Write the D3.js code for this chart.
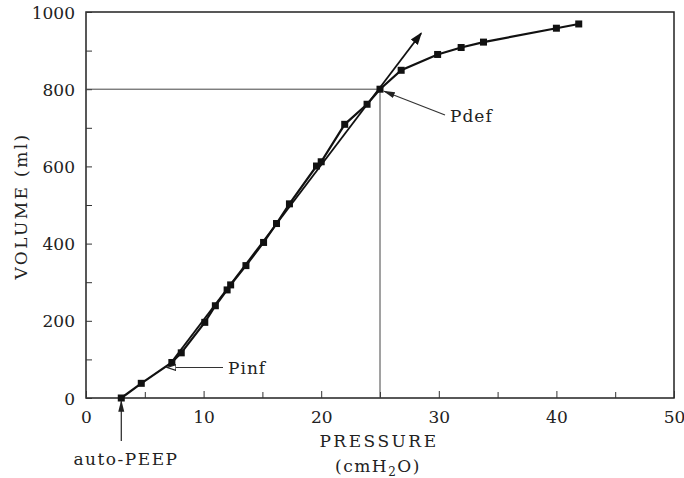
<!DOCTYPE html>
<html>
<head>
<meta charset="utf-8">
<script src="https://cdn.jsdelivr.net/npm/d3@7"></script>
<style>
  body { margin: 0; background: #fff; }
</style>
</head>
<body>
<script>
// pressure (cmH2O) and volume (ml)
var pressure = [3, 4.7, 7.3, 8.1, 10.1, 11.0, 12.0, 12.3, 13.6, 15.1, 16.2, 17.3, 19.6, 20.0, 22.0, 23.9, 25.0, 26.8, 29.9, 31.9, 33.8, 40.0, 41.9];
var volume = [0, 38, 92, 117, 196, 239, 280, 293, 343, 403, 452, 503, 601, 612, 709, 761, 800, 849, 890, 908, 922, 958, 969];
// straight line through the linear part, ends with arrow
var fitPressure = [7, 28.5];
var fitVolume = [82, 945];
var xTicks = [0, 10, 20, 30, 40, 50];
var xMinor = [5, 15, 25, 35, 45];
var yTicks = [0, 200, 400, 600, 800, 1000];
var yMinor = [100, 300, 500, 700, 900];
var pdef = { p: 25, v: 800 };
var pinf = { p: 7.0, v: 79 };
var peep = { p: 3, v: 0 };

var width = 684, height = 478;
var margin = { top: 12, right: 10, bottom: 80, left: 86 };
var serif = "'DejaVu Serif', serif";

var svg = d3.select("body").append("svg").attr("width", width).attr("height", height);

var x = d3.scaleLinear().domain([0, 50]).range([margin.left, width - margin.right]);
var y = d3.scaleLinear().domain([0, 1000]).range([height - margin.bottom, margin.top]);

var defs = svg.append("defs");
defs.append("marker").attr("id", "arrowFill")
  .attr("viewBox", "0 0 10 10").attr("refX", 9).attr("refY", 5)
  .attr("markerWidth", 7).attr("markerHeight", 7).attr("orient", "auto")
  .append("path").attr("d", "M0,1.5 L10,5 L0,8.5 Z").attr("fill", "#111");
defs.append("marker").attr("id", "arrowOpen")
  .attr("viewBox", "0 0 10 10").attr("refX", 9).attr("refY", 5)
  .attr("markerWidth", 8).attr("markerHeight", 8).attr("orient", "auto")
  .append("path").attr("d", "M0,2 L9,5 L0,8 Z").attr("fill", "#fff").attr("stroke", "#222").attr("stroke-width", 1.2);
defs.append("marker").attr("id", "arrowSmall")
  .attr("viewBox", "0 0 10 10").attr("refX", 9).attr("refY", 5)
  .attr("markerWidth", 10).attr("markerHeight", 10).attr("orient", "auto")
  .append("path").attr("d", "M0,2.5 L10,5 L0,7.5 Z").attr("fill", "#222");

// frame
svg.append("rect")
  .attr("x", x(0)).attr("y", y(1000))
  .attr("width", x(50) - x(0)).attr("height", y(0) - y(1000))
  .attr("fill", "none").attr("stroke", "#222").attr("stroke-width", 1.5);

// axes with inward ticks
var xAxis = svg.append("g").attr("transform", "translate(0," + y(0) + ")")
  .call(d3.axisBottom(x).tickValues(xTicks).tickSize(-7).tickPadding(13).tickFormat(d3.format("d")));
svg.append("g").attr("transform", "translate(0," + y(0) + ")")
  .call(d3.axisBottom(x).tickValues(xMinor).tickSize(-6).tickFormat(""));
var yAxis = svg.append("g").attr("transform", "translate(" + x(0) + ",0)")
  .call(d3.axisLeft(y).tickValues(yTicks).tickSize(-6).tickPadding(11).tickFormat(d3.format("d")));
svg.append("g").attr("transform", "translate(" + x(0) + ",0)")
  .call(d3.axisLeft(y).tickValues(yMinor).tickSize(-6).tickFormat(""));
svg.selectAll(".domain").remove();
svg.selectAll(".tick line").attr("stroke", "#333").attr("stroke-width", 1);
svg.selectAll(".tick text").attr("font-size", "17px").attr("fill", "#222");
yAxis.selectAll(".tick text").attr("dy", "0.36em");

// reference lines at Pdef
svg.append("path")
  .attr("d", "M" + x(0) + "," + y(pdef.v) + "H" + x(pdef.p) + "V" + y(0))
  .attr("fill", "none").attr("stroke", "#444").attr("stroke-width", 1);

// fitted straight line with arrow
svg.append("line")
  .attr("x1", x(fitPressure[0])).attr("y1", y(fitVolume[0]))
  .attr("x2", x(fitPressure[1])).attr("y2", y(fitVolume[1]))
  .attr("stroke", "#111").attr("stroke-width", 1.8)
  .attr("marker-end", "url(#arrowFill)");

// measured curve
var line = d3.line().x(function (d, i) { return x(pressure[i]); }).y(function (d, i) { return y(volume[i]); });
svg.append("path").datum(pressure).attr("d", line)
  .attr("fill", "none").attr("stroke", "#111").attr("stroke-width", 2.2);

svg.selectAll("rect.pt").data(pressure).enter().append("rect")
  .attr("class", "pt")
  .attr("x", function (d) { return x(d) - 3.5; })
  .attr("y", function (d, i) { return y(volume[i]) - 3.5; })
  .attr("width", 7).attr("height", 7).attr("fill", "#111");

// annotations
svg.append("line")
  .attr("x1", 223).attr("y1", y(pinf.v))
  .attr("x2", x(pinf.p) - 1).attr("y2", y(pinf.v))
  .attr("stroke", "#333").attr("stroke-width", 1.2).attr("marker-end", "url(#arrowOpen)");
svg.append("text").attr("x", 228).attr("y", y(pinf.v) + 6)
  .attr("font-size", "17px").attr("letter-spacing", "1px").text("Pinf");

svg.append("line")
  .attr("x1", 445).attr("y1", 115)
  .attr("x2", x(pdef.p) + 4).attr("y2", y(pdef.v) + 2)
  .attr("stroke", "#333").attr("stroke-width", 1.2).attr("marker-end", "url(#arrowSmall)");
svg.append("text").attr("x", 450).attr("y", 122)
  .attr("font-size", "17px").attr("letter-spacing", "1px").text("Pdef");

svg.append("line")
  .attr("x1", x(peep.p)).attr("y1", 441)
  .attr("x2", x(peep.p)).attr("y2", y(peep.v) + 3)
  .attr("stroke", "#222").attr("stroke-width", 1.2).attr("marker-end", "url(#arrowSmall)");
svg.append("text").attr("x", 126).attr("y", 465).attr("text-anchor", "middle")
  .attr("font-size", "17px").attr("letter-spacing", "1.5px").text("auto-PEEP");

// axis titles
svg.append("text").attr("x", 379).attr("y", 447).attr("text-anchor", "middle")
  .attr("font-size", "17px").attr("letter-spacing", "2.5px").text("PRESSURE");
var unit = svg.append("text").attr("x", 378).attr("y", 472).attr("text-anchor", "middle")
  .attr("font-size", "17px").attr("letter-spacing", "1.5px");
unit.append("tspan").text("(cmH");
unit.append("tspan").attr("font-size", "12px").attr("dy", 4).text("2");
unit.append("tspan").attr("dy", -4).text("O)");

svg.append("text")
  .attr("transform", "translate(27,206) rotate(-90)")
  .attr("text-anchor", "middle")
  .attr("font-size", "17px").attr("letter-spacing", "2.4px").text("VOLUME (ml)");

svg.selectAll("text").style("font-family", serif).style("fill", "#222");
</script>
</body>
</html>
